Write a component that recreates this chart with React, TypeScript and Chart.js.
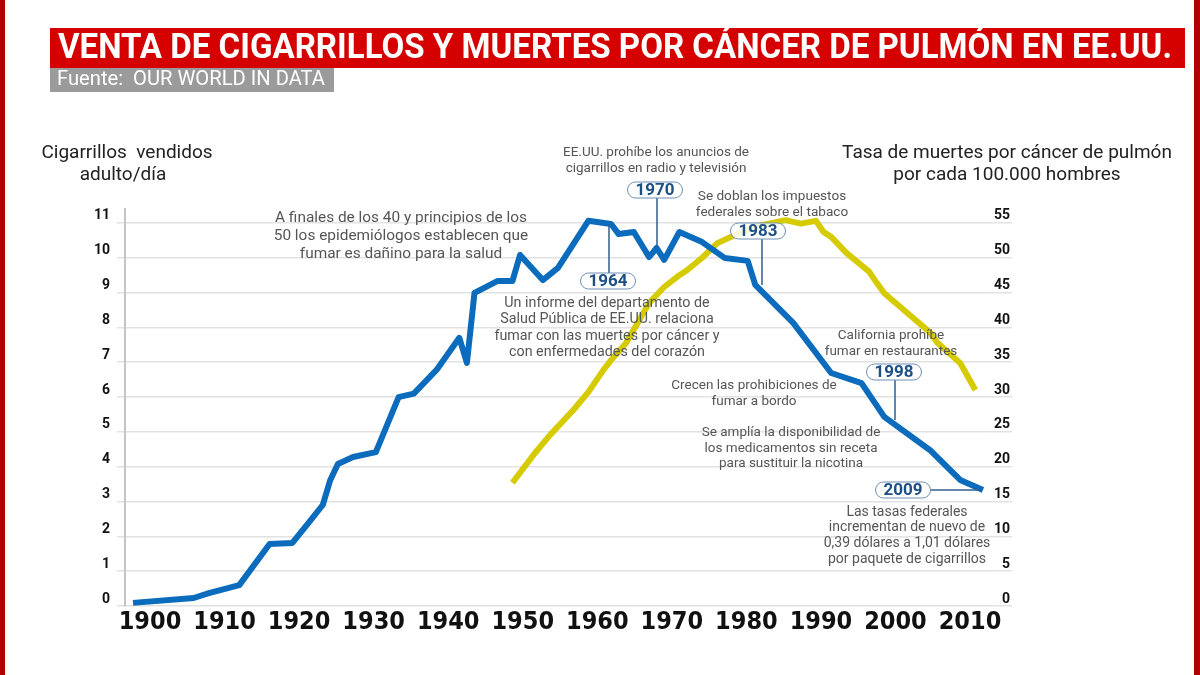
import React, { useEffect, useRef } from "react";
import { Chart, registerables } from "chart.js";

Chart.register(...registerables);

// ---- Data ----
const salesYears = [1900, 1908, 1910, 1914, 1918, 1921, 1923, 1925, 1926, 1927, 1929, 1932, 1935, 1937, 1940, 1943, 1944, 1945, 1948, 1950, 1951, 1954, 1956, 1960, 1963, 1964, 1966, 1968, 1969, 1970, 1972, 1975, 1978, 1981, 1982, 1987, 1992, 1996, 1999, 2005, 2009, 2012];
const salesValues = [0.09, 0.23, 0.37, 0.6, 1.78, 1.81, 2.35, 2.9, 3.62, 4.08, 4.28, 4.42, 6.0, 6.1, 6.78, 7.7, 6.98, 8.99, 9.33, 9.33, 10.08, 9.36, 9.71, 11.06, 10.97, 10.68, 10.74, 10.02, 10.28, 9.94, 10.74, 10.45, 9.99, 9.91, 9.22, 8.13, 6.69, 6.4, 5.43, 4.48, 3.62, 3.33];

const deathYears = [1950, 1953, 1955, 1958, 1960, 1962, 1963, 1965, 1968, 1970, 1972, 1973, 1975, 1977, 1980, 1982, 1986, 1988, 1990, 1991, 1992, 1994, 1997, 1998, 1999, 2002, 2005, 2006, 2009, 2011];
const deathValues = [17.7, 22.0, 24.6, 28.1, 30.7, 33.9, 35.3, 37.8, 43.5, 45.8, 47.5, 48.2, 50.0, 52.1, 53.6, 54.5, 55.4, 54.9, 55.3, 53.7, 53.0, 50.7, 48.0, 46.4, 44.9, 42.1, 39.3, 37.8, 34.9, 31.0];

const xTickYears = [1900, 1910, 1920, 1930, 1940, 1950, 1960, 1970, 1980, 1990, 2000, 2010];
const leftTicks = [0, 1, 2, 3, 4, 5, 6, 7, 8, 9, 10, 11];
const rightTicks = [0, 5, 10, 15, 20, 25, 30, 35, 40, 45, 50, 55];

const titleText = "VENTA DE CIGARRILLOS Y MUERTES POR CÁNCER DE PULMÓN EN EE.UU.";
const sourceText = "Fuente:  OUR WORLD IN DATA";
const leftTitle = ["Cigarrillos  vendidos", "adulto/día"];
const rightTitle = ["Tasa de muertes por cáncer de pulmón", "por cada 100.000 hombres"];

const BLUE = "#0b6cbd";
const YELLOW = "#d6cb00";
const TEXT_GRAY = "#555555";

type Note = { lines: string[]; x: number; y: number; size: number; gap: number };
const notes: Note[] = [
  { lines: ["A finales de los 40 y principios de los", "50 los epidemiólogos establecen que", "fumar es dañino para la salud"], x: 401, y: 218, size: 15.4, gap: 18 },
  { lines: ["EE.UU. prohíbe los anuncios de", "cigarrillos en radio y televisión"], x: 656, y: 153, size: 13.5, gap: 16 },
  { lines: ["Se doblan los impuestos", "federales sobre el tabaco"], x: 772, y: 197, size: 13.6, gap: 16 },
  { lines: ["Un informe del departamento de", "Salud Pública de EE.UU. relaciona", "fumar con las muertes por cáncer y", "con enfermedades del corazón"], x: 607, y: 303, size: 14.3, gap: 16.5 },
  { lines: ["California prohíbe", "fumar en restaurantes"], x: 891, y: 336, size: 13.5, gap: 16 },
  { lines: ["Crecen las prohibiciones de", "fumar a bordo"], x: 754, y: 386, size: 13.5, gap: 16 },
  { lines: ["Se amplía la disponibilidad de", "los medicamentos sin receta", "para sustituir la nicotina"], x: 791, y: 433, size: 13.5, gap: 15.5 },
  { lines: ["Las tasas federales", "incrementan de nuevo de", "0,39 dólares a 1,01 dólares", "por paquete de cigarrillos"], x: 907, y: 512, size: 14, gap: 15.7 },
];

type Box = { label: string; x: number; y: number; lx1: number; ly1: number; lx2: number; ly2: number };
const boxes: Box[] = [
  { label: "1970", x: 655, y: 190, lx1: 657, ly1: 198, lx2: 657, ly2: 247 },
  { label: "1964", x: 608, y: 281, lx1: 609, ly1: 224, lx2: 609, ly2: 273 },
  { label: "1983", x: 758, y: 231, lx1: 762, ly1: 239, lx2: 762, ly2: 285 },
  { label: "1998", x: 894, y: 372, lx1: 895, ly1: 380, lx2: 895, ly2: 420 },
  { label: "2009", x: 903, y: 490, lx1: 931, ly1: 490, lx2: 980, ly2: 490 },
];

// scale ranges (pixel calibration of the reference)
const X_DATA_MIN = 1898.946;
const X_DATA_MAX = 2012.93;
const X_LABEL_MIN = 1896.646;
const X_LABEL_MAX = 2012.68;
const Y_MAX = 11.4;

function roundRect(ctx: CanvasRenderingContext2D, x: number, y: number, w: number, h: number, r: number) {
  ctx.beginPath();
  ctx.moveTo(x + r, y);
  ctx.lineTo(x + w - r, y);
  ctx.arc(x + w - r, y + r, r, -Math.PI / 2, Math.PI / 2);
  ctx.lineTo(x + r, y + h);
  ctx.arc(x + r, y + r, r, Math.PI / 2, (3 * Math.PI) / 2);
  ctx.closePath();
}

const decorPlugin = {
  id: "decor",
  afterDraw(chart: any) {
    const ctx: CanvasRenderingContext2D = chart.ctx;
    ctx.save();
    // side stripes
    ctx.fillStyle = "#b30000";
    ctx.fillRect(0, 0, 5, 675);
    ctx.fillRect(1194, 0, 6, 675);
    // title bar
    ctx.fillStyle = "#d50000";
    ctx.fillRect(50, 28, 1135, 40);
    ctx.fillStyle = "#ffffff";
    ctx.font = "bold 35px Roboto";
    ctx.textBaseline = "middle";
    ctx.textAlign = "left";
    ctx.fillText(titleText, 58, 49, 1114);
    // source bar
    ctx.fillStyle = "#9b9b9b";
    ctx.fillRect(50, 68, 284, 24);
    ctx.fillStyle = "#ffffff";
    ctx.font = "20.5px Roboto";
    ctx.fillText(sourceText, 57, 80, 268);
    // axis titles
    ctx.fillStyle = "#222222";
    ctx.font = "19px Roboto";
    ctx.textAlign = "center";
    ctx.fillText(leftTitle[0], 127, 153);
    ctx.fillText(leftTitle[1], 123, 175);
    ctx.fillText(rightTitle[0], 1007, 153);
    ctx.fillText(rightTitle[1], 1007, 175);
    // notes
    ctx.fillStyle = TEXT_GRAY;
    for (const n of notes) {
      ctx.font = `${n.size}px Roboto`;
      n.lines.forEach((l, i) => ctx.fillText(l, n.x, n.y + i * n.gap));
    }
    // leaders and boxes
    for (const b of boxes) {
      ctx.strokeStyle = "#2e5f91";
      ctx.lineWidth = 1.5;
      ctx.beginPath();
      ctx.moveTo(b.lx1, b.ly1);
      ctx.lineTo(b.lx2, b.ly2);
      ctx.stroke();
      const w = 55, h = 16;
      roundRect(ctx, b.x - w / 2, b.y - h / 2, w, h, 8);
      ctx.fillStyle = "rgba(255,255,255,0.85)";
      ctx.fill();
      ctx.strokeStyle = "#6f8fb3";
      ctx.lineWidth = 1;
      ctx.stroke();
      ctx.fillStyle = "#1b4f86";
      ctx.font = "bold 17px Roboto";
      ctx.fillText(b.label, b.x, b.y + 1);
    }
    ctx.restore();
  },
};

export default function App() {
  const ref = useRef<HTMLCanvasElement | null>(null);
  useEffect(() => {
    if (!ref.current) return;
    const tickFont = { family: "Roboto", weight: "bold" as const, size: 14 };
    const chart = new Chart(ref.current, {
      type: "line",
      data: {
        datasets: [
          {
            label: "Cigarrillos vendidos adulto/día",
            data: salesYears.map((x, i) => ({ x, y: salesValues[i] })),
            xAxisID: "x",
            yAxisID: "y",
            borderColor: BLUE,
            borderWidth: 6,
            pointRadius: 0,
            tension: 0,
            borderJoinStyle: "round",
            fill: false,
          },
          {
            label: "Tasa de muertes por cáncer de pulmón",
            data: deathYears.map((x, i) => ({ x, y: deathValues[i] })),
            xAxisID: "x",
            yAxisID: "y2",
            borderColor: YELLOW,
            borderWidth: 6,
            pointRadius: 0,
            tension: 0,
            borderJoinStyle: "round",
            fill: false,
          },
        ],
      },
      options: {
        animation: false,
        responsive: false,
        layout: { padding: { top: 209, right: 190, left: 0, bottom: 0 } },
        plugins: { legend: { display: false }, tooltip: { enabled: false } },
        scales: {
          x: { type: "linear", display: false, min: X_DATA_MIN, max: X_DATA_MAX },
          x2: {
            type: "linear",
            position: "bottom",
            min: X_LABEL_MIN,
            max: X_LABEL_MAX,
            afterBuildTicks: (s: any) => {
              s.ticks = xTickYears.map((v) => ({ value: v }));
            },
            afterFit: (s: any) => {
              s.height = 69;
            },
            grid: { display: false, drawTicks: false },
            border: { display: false },
            ticks: {
              autoSkip: false,
              maxRotation: 0,
              padding: 1,
              color: "#111111",
              font: { family: '"Liberation Sans Narrow", "DejaVu Sans Condensed", Roboto', weight: "bold", size: 25 },
              callback: (v: any) => String(v),
            },
          },
          y: {
            position: "left",
            min: 0,
            max: Y_MAX,
            afterBuildTicks: (s: any) => {
              s.ticks = leftTicks.map((v) => ({ value: v }));
            },
            afterFit: (s: any) => {
              s.width = 125;
            },
            grid: { color: "#e2e2e2", lineWidth: 1.5, tickLength: 8, drawTicks: true },
            border: { display: true, color: "#c4c4c4", width: 2 },
            ticks: { padding: 7, labelOffset: -7, color: "#111111", font: tickFont, callback: (v: any) => String(v) },
          },
          y2: {
            position: "right",
            min: 0,
            max: Y_MAX * 5,
            afterBuildTicks: (s: any) => {
              s.ticks = rightTicks.map((v) => ({ value: v }));
            },
            afterFit: (s: any) => {
              s.width = 20;
            },
            grid: { drawOnChartArea: false, drawTicks: true, tickLength: 22, color: "#e2e2e2", lineWidth: 1.5 },
            border: { display: false },
            ticks: { crossAlign: "far", padding: 0, labelOffset: -7, color: "#111111", font: tickFont, callback: (v: any) => String(v) },
          },
        },
      },
      plugins: [decorPlugin],
    } as any);
    return () => chart.destroy();
  }, []);
  return (
    <div style={{ position: "absolute", left: 0, top: 0, width: 1200, height: 675, background: "#ffffff" }}>
      <canvas ref={ref} width={1200} height={675} style={{ display: "block", width: 1200, height: 675 }} />
    </div>
  );
}
